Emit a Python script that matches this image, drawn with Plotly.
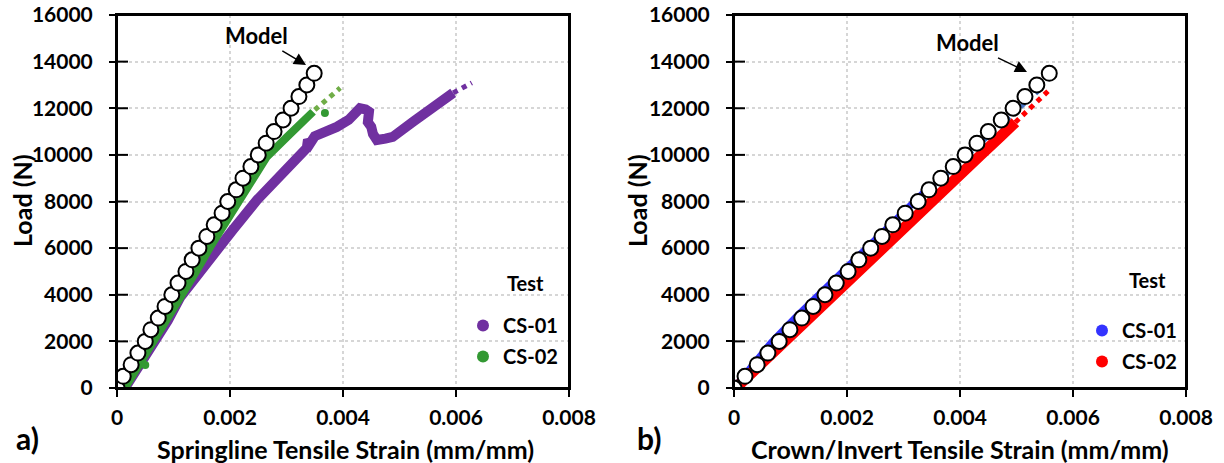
import plotly.graph_objects as go

# ---------------- data ----------------
model_load = [i * 500 for i in range(28)]
# panel a) springline
a_model_strain = [0, 0.11, 0.25, 0.37, 0.50, 0.60, 0.73, 0.85, 0.97, 1.08, 1.22, 1.33, 1.45, 1.59,
                  1.72, 1.86, 1.96, 2.11, 2.23, 2.37, 2.50, 2.64, 2.78, 2.94, 3.08, 3.22, 3.36, 3.49]
a_cs01_strain = [0.14, 0.55, 0.90, 1.12, 1.40, 1.65, 2.05, 2.48, 2.83, 3.01, 3.36, 3.38, 3.42, 3.50,
                 3.70, 3.89, 4.10, 4.30, 4.40, 4.46, 4.44, 4.50, 4.53, 4.60, 4.75, 4.88, 5.24, 5.66,
                 5.80, 5.89, 5.95]
a_cs01_load = [0, 1500, 2900, 3900, 4800, 5490, 6780, 8070, 8930, 9480, 10300, 10650, 10500, 10800,
               10950, 11200, 11500, 12000, 11950, 11850, 11400, 11200, 10900, 10640, 10700, 10770,
               11420, 12150, 12300, 12490, 12660]
a_cs01_ext_strain = [5.95, 6.28]
a_cs01_ext_load = [12660, 13090]
a_cs02_strain = [0.14, 0.50, 0.80, 1.17, 1.40, 1.65, 2.04, 2.23, 2.45, 2.65, 3.01, 3.24, 3.47]
a_cs02_load = [0, 1400, 2650, 3990, 5000, 6050, 7510, 8370, 9150, 9910, 10770, 11370, 11850]
a_cs02_pts_strain = [0.50, 3.68]
a_cs02_pts_load = [990, 11800]
a_cs02_ext_strain = [3.50, 3.95]
a_cs02_ext_load = [11930, 12870]

# panel b) crown/invert
b_model_strain = [0, 0.195, 0.41, 0.60, 0.80, 0.99, 1.20, 1.40, 1.61, 1.81, 2.02, 2.21, 2.42, 2.62,
                  2.81, 3.03, 3.26, 3.45, 3.66, 3.88, 4.09, 4.30, 4.50, 4.73, 4.94, 5.15, 5.36, 5.58]
b_cs01_strain = [0, 0.34, 0.66, 1.08, 1.50, 1.92, 2.35, 2.78, 3.20, 3.45]
b_cs01_load = [0, 1050, 1950, 3000, 4000, 5000, 6000, 7000, 8000, 8600]
b_cs01_ext_strain = [3.50, 5.40]
b_cs01_ext_load = [8600, 12780]
b_cs02_strain = [0.03, 0.50, 0.95, 1.38, 1.80, 2.22, 2.65, 3.08, 3.50, 3.92, 4.37, 4.72, 4.98]
b_cs02_load = [0, 1100, 2000, 3000, 4000, 5000, 6000, 7000, 8000, 9000, 10000, 10800, 11400]
b_cs02_ext_strain = [4.98, 5.60]
b_cs02_ext_load = [11400, 12830]

x_ticks = [0, 0.002, 0.004, 0.006, 0.008]
x_tick_text = ["0", "0.002", "0.004", "0.006", "0.008"]
y_ticks = list(range(0, 16001, 2000))
y_tick_text = [str(v) for v in y_ticks]

PURPLE = "#7030a0"
GREEN = "#339933"
LGREEN = "#70ad47"
BLUE = "#3333ff"
LBLUE = "#4472c4"
RED = "#ff0000"

def s(v):
    return [x / 1000.0 for x in v]

FONT = "Lato"
fig = go.Figure()

def band(xs, ys, color, xa, ya, width=8):
    fig.add_trace(go.Scatter(x=s(xs), y=ys, mode="lines", line=dict(color=color, width=width),
                             xaxis=xa, yaxis=ya, showlegend=False, hoverinfo="skip"))

def ext(xs, ys, color, xa, ya):
    fig.add_trace(go.Scatter(x=s(xs), y=ys, mode="lines", line=dict(color=color, width=5, dash="dot"),
                             xaxis=xa, yaxis=ya, showlegend=False, hoverinfo="skip"))

# panel a
band(a_cs01_strain, a_cs01_load, PURPLE, "x", "y", 10)
ext(a_cs01_ext_strain, a_cs01_ext_load, PURPLE, "x", "y")
band(a_cs02_strain, a_cs02_load, GREEN, "x", "y", 8)
fig.add_trace(go.Scatter(x=s(a_cs02_pts_strain), y=a_cs02_pts_load, mode="markers",
                         marker=dict(color=GREEN, size=8), xaxis="x", yaxis="y", showlegend=False))
ext(a_cs02_ext_strain, a_cs02_ext_load, LGREEN, "x", "y")
fig.add_trace(go.Scatter(x=s(a_model_strain), y=model_load, mode="markers",
                         marker=dict(symbol="circle", size=15, color="white", line=dict(color="black", width=2)),
                         xaxis="x", yaxis="y", showlegend=False))

# panel b
band(b_cs01_strain, b_cs01_load, BLUE, "x2", "y2", 7)
band(b_cs02_strain, b_cs02_load, RED, "x2", "y2", 11)
ext(b_cs01_ext_strain, b_cs01_ext_load, LBLUE, "x2", "y2")
ext(b_cs02_ext_strain, b_cs02_ext_load, RED, "x2", "y2")
fig.add_trace(go.Scatter(x=s(b_model_strain), y=model_load, mode="markers",
                         marker=dict(symbol="circle", size=15, color="white", line=dict(color="black", width=2)),
                         xaxis="x2", yaxis="y2", showlegend=False))

# legend entries
for name, col, leg, grp in [("CS-01", PURPLE, "legend", "a1"), ("CS-02", GREEN, "legend", "a2"),
                            ("CS-01", BLUE, "legend2", "b1"), ("CS-02", RED, "legend2", "b2")]:
    fig.add_trace(go.Scatter(x=[None], y=[None], mode="markers", name=name,
                             marker=dict(color=col, size=8), legend=leg, legendgroup=grp,
                             xaxis="x" if leg == "legend" else "x2", yaxis="y" if leg == "legend" else "y2"))

W, H = 1224, 463

def px(p):
    return p / W

def py(p):
    return 1 - p / H

top, bot = 15, 388
ydom = [py(bot), py(top)]
xdom1 = [px(117), px(569)]
xdom2 = [px(734), px(1186)]

tickfont = dict(family=FONT, size=21, color="black", weight="bold")

def xaxis(dom, anchor):
    return dict(domain=dom, range=[0, 0.008], tickvals=x_ticks, ticktext=x_tick_text, anchor=anchor,
                showgrid=True, gridcolor="#d6d6d6", griddash="dot", gridwidth=1.5,
                showline=True, linecolor="black", linewidth=2, mirror=True,
                ticks="outside", ticklen=7, tickwidth=2, tickcolor="black", ticklabeloverflow="allow",
                tickfont=tickfont, zeroline=False, automargin=False, ticklabelstandoff=3)

def yaxis(anchor):
    return dict(domain=ydom, range=[0, 16000], tickvals=y_ticks, ticktext=y_tick_text, anchor=anchor,
                showgrid=True, gridcolor="#d6d6d6", griddash="dot", gridwidth=1.5,
                showline=True, linecolor="black", linewidth=2, mirror=True,
                ticks="outside", ticklen=6, tickwidth=2, tickcolor="black", ticklabeloverflow="allow",
                tickfont=tickfont, zeroline=False, ticklabelstandoff=12, automargin=False)

legend_common = dict(bgcolor="rgba(0,0,0,0)", font=dict(family=FONT, size=20, color="black", weight="bold"),
                     tracegroupgap=2, itemsizing="constant", yanchor="top", xanchor="right")

def txt(text, x, y, size, angle=0):
    return dict(text=text, x=px(x), y=py(y), xref="paper", yref="paper", showarrow=False,
                xanchor="center", yanchor="middle", textangle=angle,
                font=dict(family=FONT, size=size, color="black", weight="bold"))

# plot frames and the inner half of the crossing y ticks
shapes = [dict(type="rect", xref="paper", yref="paper", x0=d[0], x1=d[1], y0=ydom[0], y1=ydom[1],
               line=dict(color="black", width=2), layer="above")
          for d in (xdom1, xdom2)]
inner = 11 / 452
for xa, ya in (("x", "y"), ("x2", "y2")):
    for v in y_ticks:
        shapes.append(dict(type="line", xref=f"{xa} domain", yref=ya, x0=0, x1=inner, y0=v, y1=v,
                           line=dict(color="black", width=2), layer="above"))

fig.update_layout(
    width=W, height=H, margin=dict(l=0, r=0, t=0, b=0),
    paper_bgcolor="white", plot_bgcolor="white",
    xaxis=xaxis(xdom1, "y"),
    yaxis=yaxis("x"),
    xaxis2=xaxis(xdom2, "y2"),
    yaxis2=yaxis("x2"),
    legend=dict(x=px(563), y=py(306), **legend_common),
    legend2=dict(x=px(1182), y=py(311), **legend_common),
    showlegend=True,
    shapes=shapes,
    annotations=[
        txt("Test", 525, 283, 20),
        txt("Test", 1147, 280, 20),
        txt("Springline Tensile Strain (mm/mm)", 345, 449, 25),
        txt("Crown/Invert Tensile Strain (mm/mm)", 960, 449, 25),
        txt("Load (N)", 22, 201, 25, -90),
        txt("Load (N)", 637, 201, 25, -90),
        txt("a)", 28, 438, 30),
        txt("b)", 649, 438, 30),
        dict(text="Model", x=0.003345, y=13860, xref="x", yref="y", ax=-49, ay=-29,
             showarrow=True, arrowhead=2, arrowsize=1.6, arrowwidth=1.5, arrowcolor="black",
             font=dict(family=FONT, size=22, color="black", weight="bold")),
        dict(text="Model", x=0.005186, y=13560, xref="x2", yref="y2", ax=-60, ay=-29,
             showarrow=True, arrowhead=2, arrowsize=1.6, arrowwidth=1.5, arrowcolor="black",
             font=dict(family=FONT, size=22, color="black", weight="bold")),
    ],
)

# remove the browser's default 8px body margin so the figure sits at the page origin
fig.write_html("out.html", config={"displayModeBar": False},
               post_script="document.body.style.margin='0';")
